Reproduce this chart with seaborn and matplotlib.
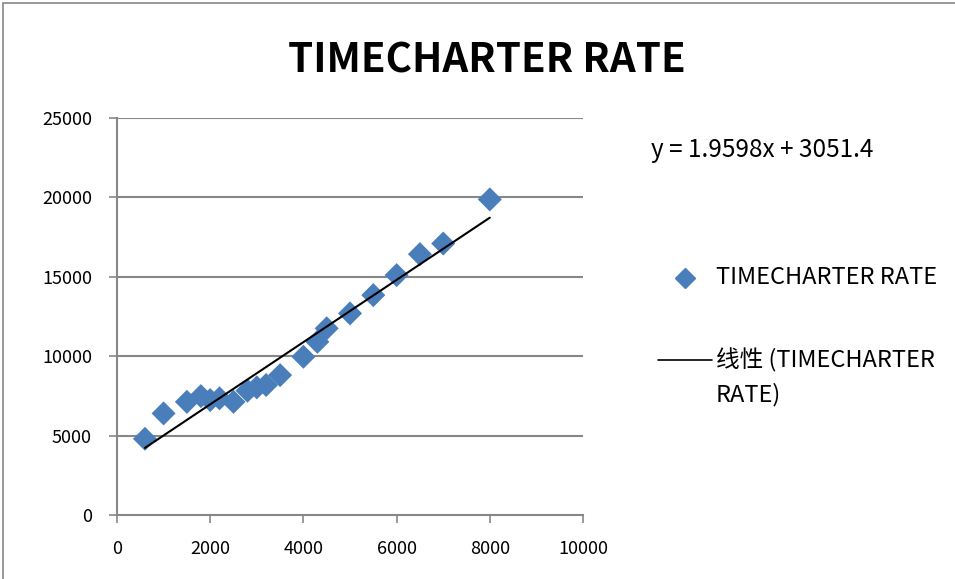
import matplotlib
matplotlib.use("Agg")
import matplotlib.pyplot as plt
from matplotlib.lines import Line2D
from matplotlib.patches import Rectangle
import numpy as np
import pandas as pd
import seaborn as sns

# Timecharter rate observations
x_values = [600, 1000, 1500, 1800, 2000, 2200, 2500, 2800, 3000, 3200,
            3500, 4000, 4300, 4500, 5000, 5500, 6000, 6500, 7000, 8000]
rates = [4800, 6400, 7130, 7490, 7240, 7350, 7130, 7830, 8040, 8190,
         8810, 9970, 10910, 11760, 12700, 13850, 15110, 16430, 17100, 19880]

# Linear trendline coefficients
slope = 1.9598
intercept = 3051.4

series_name = "TIMECHARTER RATE"
trend_name_lines = ["线性 (TIMECHARTER", "RATE)"]
x_ticks = [0, 2000, 4000, 6000, 8000, 10000]
y_ticks = [0, 5000, 10000, 15000, 20000, 25000]

sns.set_theme(style="white")
plt.rcParams["font.family"] = ["Noto Sans CJK SC", "DejaVu Sans"]

blue = "#4A7EBB"
grey = "#878787"

df = pd.DataFrame({"x": x_values, "rate": rates})

fig = plt.figure(figsize=(9.55, 5.79), dpi=100)
ax = fig.add_axes([0.1225, 0.1105, 0.488, 0.6855])

# chart-area border
fig.patches.append(Rectangle((0.003, -0.1), 1.2, 1.095, transform=fig.transFigure,
                             fill=False, edgecolor=grey, linewidth=1.2))

for yv in y_ticks[1:]:
    ax.axhline(yv, color=grey, linewidth=1.5, zorder=0)

sns.scatterplot(data=df, x="x", y="rate", marker="D", s=150, color=blue,
                edgecolor="none", ax=ax, zorder=3, legend=False)

xs = np.array([min(x_values), max(x_values)])
ax.plot(xs, slope * xs + intercept, color="black", linewidth=1.5, zorder=4)

ax.set_xlim(0, 10000)
ax.set_ylim(0, 25000)
ax.set_xticks(x_ticks)
ax.set_yticks(y_ticks)
ax.set_xlabel("")
ax.set_ylabel("")
for side in ["top", "right"]:
    ax.spines[side].set_visible(False)
for side in ["left", "bottom"]:
    ax.spines[side].set_color(grey)
    ax.spines[side].set_linewidth(1.5)
ax.tick_params(axis="both", which="both", direction="out", length=6, width=1.2,
               color=grey, labelsize=13, labelcolor="black",
               bottom=True, left=True)
ax.tick_params(axis="y", pad=12)
ax.tick_params(axis="x", pad=12)

fig.text(0.51, 0.895, "TIMECHARTER RATE", ha="center", va="center",
         fontsize=29, fontweight="bold", color="black")

fig.text(0.682, 0.741, f"y = {slope}x + {intercept}", ha="left", va="center",
         fontsize=17.5, color="black")

# legend entries
fig.add_artist(Line2D([0.7173], [0.520], marker="D", linestyle="none", color=blue,
                      markersize=10, transform=fig.transFigure))
fig.text(0.7497, 0.520, series_name, ha="left", va="center", fontsize=17,
         color="black")
fig.add_artist(Line2D([0.689, 0.7455], [0.378, 0.378], color="black", linewidth=1.2,
                      transform=fig.transFigure))
fig.text(0.7497, 0.378, trend_name_lines[0], ha="left", va="center", fontsize=17,
         color="black")
fig.text(0.7497, 0.318, trend_name_lines[1], ha="left", va="center", fontsize=17,
         color="black")

fig.savefig("out.png", dpi=100)
